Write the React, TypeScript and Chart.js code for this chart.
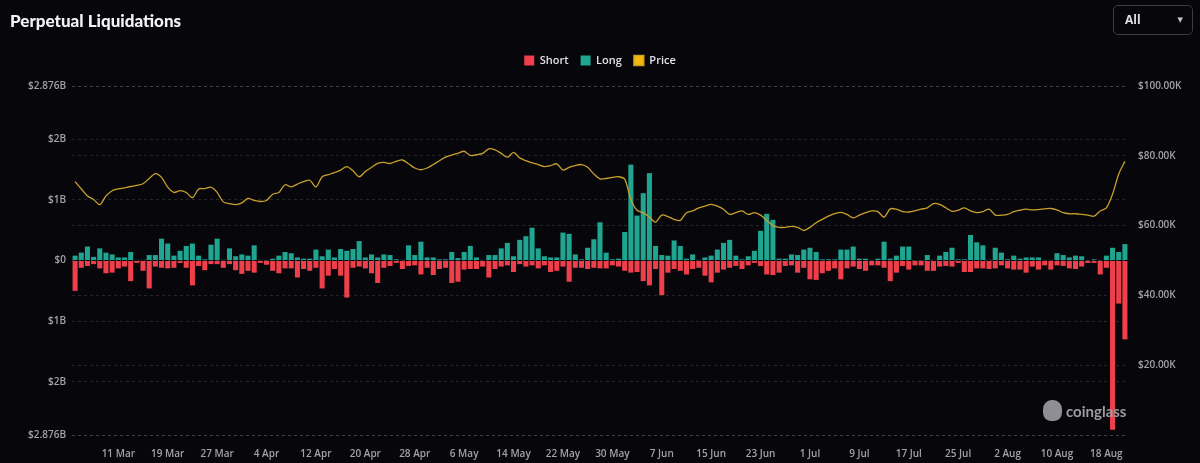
import React, { useEffect, useRef } from "react";
import { Chart, registerables } from "chart.js";

Chart.register(...registerables);

// ---- categories ----
const MONTH_NAMES = ["Jan", "Feb", "Mar", "Apr", "May", "Jun", "Jul", "Aug", "Sep", "Oct", "Nov", "Dec"];
const MONTH_LENGTHS = [31, 29, 31, 30, 31, 30, 31, 31, 30, 31, 30, 31];
const START_MONTH = 2; // March
const START_DAY = 4;

const TICK_LABELS = [
  "11 Mar", "19 Mar", "27 Mar", "4 Apr", "12 Apr", "20 Apr", "28 Apr", "6 May", "14 May",
  "22 May", "30 May", "7 Jun", "15 Jun", "23 Jun", "1 Jul", "9 Jul", "17 Jul", "25 Jul",
  "2 Aug", "10 Aug", "18 Aug",
];

// ---- series (Long / Short in $B, Price in $K) ----
const LONG = [
  0.08, 0.13, 0.23, 0.06, 0.20, 0.13, 0.10, 0.05, 0.05, 0.14,
  0.01, 0.01, 0.09, 0.09, 0.36, 0.28, 0.08, 0.16, 0.24, 0.28,
  0.08, 0.02, 0.26, 0.36, 0.01, 0.20, 0.07, 0.10, 0.08, 0.25,
  0.01, 0.005, 0.03, 0.08, 0.14, 0.12, 0.05, 0.03, 0.03, 0.18,
  0.07, 0.18, 0.05, 0.19, 0.16, 0.19, 0.32, 0.05, 0.10, 0.05,
  0.10, 0.09, 0.02, 0.01, 0.25, 0.09, 0.31, 0.05, 0.05, 0.02,
  0.02, 0.14, 0.04, 0.14, 0.24, 0.05, 0.01, 0.09, 0.09, 0.20,
  0.29, 0.07, 0.34, 0.40, 0.54, 0.20, 0.07, 0.05, 0.05, 0.46,
  0.44, 0.10, 0.02, 0.21, 0.35, 0.63, 0.13, 0.02, 0.03, 0.47,
  1.58, 0.74, 1.11, 1.44, 0.24, 0.09, 0.08, 0.33, 0.24, 0.03,
  0.10, 0.01, 0.05, 0.08, 0.18, 0.29, 0.34, 0.08, 0.02, 0.07,
  0.16, 0.49, 0.77, 0.67, 0.03, 0.03, 0.10, 0.09, 0.18, 0.21,
  0.14, 0.02, 0.02, 0.02, 0.18, 0.18, 0.23, 0.03, 0.03, 0.01,
  0.03, 0.31, 0.03, 0.08, 0.23, 0.23, 0.005, 0.005, 0.09, 0.01,
  0.08, 0.14, 0.21, 0.02, 0.02, 0.42, 0.30, 0.25, 0.01, 0.21,
  0.13, 0.02, 0.08, 0.03, 0.05, 0.05, 0.05, 0.01, 0.01, 0.12,
  0.09, 0.05, 0.08, 0.07, 0.005, 0.02, 0.005, 0.08, 0.21, 0.14,
  0.27,
];

const SHORT = [
  0.50, 0.12, 0.09, 0.06, 0.13, 0.21, 0.20, 0.13, 0.10, 0.34,
  0.04, 0.17, 0.46, 0.10, 0.12, 0.13, 0.12, 0.04, 0.12, 0.41,
  0.09, 0.16, 0.06, 0.06, 0.12, 0.06, 0.16, 0.22, 0.17, 0.20,
  0.04, 0.07, 0.17, 0.21, 0.13, 0.13, 0.28, 0.14, 0.17, 0.12,
  0.46, 0.25, 0.14, 0.25, 0.61, 0.12, 0.10, 0.13, 0.21, 0.37,
  0.12, 0.09, 0.04, 0.14, 0.09, 0.08, 0.23, 0.12, 0.24, 0.14,
  0.12, 0.37, 0.35, 0.15, 0.14, 0.14, 0.10, 0.28, 0.14, 0.10,
  0.08, 0.19, 0.06, 0.10, 0.08, 0.13, 0.08, 0.19, 0.17, 0.10,
  0.35, 0.12, 0.12, 0.14, 0.12, 0.13, 0.13, 0.08, 0.10, 0.17,
  0.20, 0.19, 0.34, 0.41, 0.14, 0.57, 0.20, 0.14, 0.17, 0.23,
  0.14, 0.12, 0.25, 0.36, 0.20, 0.15, 0.12, 0.09, 0.14, 0.08,
  0.04, 0.09, 0.23, 0.24, 0.20, 0.09, 0.08, 0.20, 0.12, 0.31,
  0.32, 0.21, 0.17, 0.13, 0.31, 0.13, 0.10, 0.14, 0.17, 0.08,
  0.08, 0.12, 0.34, 0.20, 0.09, 0.15, 0.08, 0.08, 0.17, 0.17,
  0.10, 0.09, 0.10, 0.04, 0.19, 0.19, 0.13, 0.13, 0.14, 0.13,
  0.08, 0.13, 0.15, 0.15, 0.20, 0.10, 0.15, 0.08, 0.15, 0.08,
  0.09, 0.13, 0.14, 0.10, 0.04, 0.04, 0.23, 0.12, 2.79, 0.71,
  1.30,
];

const PRICE = [
  72.6, 70.5, 68.5, 67.5, 66.0, 68.5, 70.0, 70.5, 70.8, 71.2,
  71.5, 72.0, 73.5, 74.9, 73.8, 71.0, 69.5, 70.0, 69.5, 68.0,
  70.5, 70.6, 71.0, 69.5, 66.8, 66.3, 66.0, 66.5, 67.8, 67.2,
  66.9, 67.2, 69.0, 69.5, 71.7, 71.1, 71.9, 72.6, 73.0, 71.1,
  74.0, 74.6, 75.2, 75.9, 76.9, 75.7, 74.0, 75.5, 76.7, 77.8,
  78.1, 77.8, 78.4, 78.8, 77.7, 76.5, 76.0, 76.5, 77.5, 78.6,
  79.6, 80.2, 80.7, 81.3, 80.1, 80.3, 80.7, 82.0, 81.7, 80.7,
  79.6, 81.0, 79.4, 78.6, 78.0, 77.5, 76.9, 77.2, 77.7, 75.9,
  76.7, 77.2, 77.5, 76.7, 74.8, 73.4, 73.5, 73.8, 74.0, 73.3,
  67.5, 64.4, 63.7, 62.4, 61.0, 63.0, 62.6, 61.8, 61.5, 63.7,
  64.2, 65.1, 65.6, 66.1, 65.6, 64.7, 63.2, 63.7, 64.2, 63.2,
  63.7, 63.0, 61.5, 60.0, 59.5, 59.5, 59.8, 59.5, 58.6, 59.5,
  60.8, 61.8, 62.7, 63.4, 63.8, 63.2, 62.2, 63.0, 63.7, 64.2,
  64.0, 62.4, 64.8, 64.7, 64.0, 63.9, 64.2, 64.7, 65.1, 66.3,
  66.1, 65.1, 64.1, 64.4, 65.1, 64.2, 63.7, 64.0, 64.7, 63.0,
  63.0, 63.2, 64.0, 64.4, 64.7, 64.5, 64.6, 64.8, 64.9, 64.5,
  63.7, 63.4, 63.4, 63.2, 63.0, 62.7, 64.2, 65.1, 69.0, 74.8,
  78.4,
];

const LEFT_TICKS = [-2.876, -2, -1, 0, 1, 2, 2.876];
const RIGHT_MIN = 0;
const RIGHT_MAX = 100;
const RIGHT_STEP = 20;

// daily labels "4 Mar" ... built from the start date
function buildLabels(count: number): string[] {
  const out: string[] = [];
  let m = START_MONTH;
  let d = START_DAY;
  for (let i = 0; i < count; i++) {
    out.push(`${d} ${MONTH_NAMES[m]}`);
    d++;
    if (d > MONTH_LENGTHS[m]) {
      d = 1;
      m = (m + 1) % 12;
    }
  }
  return out;
}
const LABELS = buildLabels(LONG.length);

const BG = "#06060b";
const RED = "#ef3f4b";
const TEAL = "#1fa590";
const PRICE_LINE = "#c9a02c";
const PRICE_BOX = "#f0b90b";
const TICK_COLOR = "#a2a2a8";
const GRID_COLOR = "rgba(255,255,255,0.13)";
const FONT = "'Open Sans', 'DejaVu Sans', sans-serif";

// adds empty space below the legend row
const legendGap = {
  id: "legendGap",
  beforeInit(chart: any) {
    const legend = chart.legend;
    if (!legend || legend._gapPatched) return;
    const origFit = legend.fit;
    legend.fit = function () {
      origFit.call(this);
      this.height += 10;
    };
    legend._gapPatched = true;
  },
};

export default function App() {
  const canvasRef = useRef<HTMLCanvasElement | null>(null);

  useEffect(() => {
    document.body.style.margin = "0";
    document.body.style.background = BG;
    const canvas = canvasRef.current;
    if (!canvas) return;
    const tickFont = { family: FONT, size: 10, weight: "600" as const };

    const chart = new Chart(canvas, {
      type: "bar",
      plugins: [legendGap],
      data: {
        labels: LABELS,
        datasets: [
          {
            type: "bar",
            label: "Short",
            data: SHORT.map((v) => -v),
            backgroundColor: RED,
            borderWidth: 0,
            yAxisID: "y",
            stack: "liq",
            order: 2,
            barPercentage: 0.82,
            categoryPercentage: 1.0,
          },
          {
            type: "bar",
            label: "Long",
            data: LONG,
            backgroundColor: TEAL,
            borderWidth: 0,
            yAxisID: "y",
            stack: "liq",
            order: 2,
            barPercentage: 0.82,
            categoryPercentage: 1.0,
          },
          {
            type: "line",
            label: "Price",
            data: PRICE,
            borderColor: PRICE_LINE,
            backgroundColor: PRICE_BOX,
            borderWidth: 1.3,
            pointRadius: 0,
            tension: 0.3,
            yAxisID: "y1",
            order: 1,
          } as any,
        ],
      },
      options: {
        animation: false,
        responsive: true,
        maintainAspectRatio: false,
        layout: { padding: { top: 30, left: 0, right: 0, bottom: 0 } },
        plugins: {
          tooltip: { enabled: false },
          legend: {
            display: true,
            position: "top",
            labels: {
              boxWidth: 10,
              boxHeight: 10,
              padding: 12,
              color: "#e2e2e6",
              font: { family: FONT, size: 11, weight: "600" },
              sort: (a: any, b: any) => a.datasetIndex - b.datasetIndex,
            },
          },
        },
        scales: {
          x: {
            stacked: true,
            offset: true,
            grid: { display: false },
            border: { display: false },
            ticks: {
              autoSkip: false,
              maxRotation: 0,
              minRotation: 0,
              padding: 5,
              color: TICK_COLOR,
              font: tickFont,
              callback: (_v: any, i: number) => (TICK_LABELS.includes(LABELS[i]) ? LABELS[i] : ""),
            },
            afterFit: (s: any) => {
              s.height = 28;
            },
          },
          y: {
            position: "left",
            stacked: true,
            min: LEFT_TICKS[0],
            max: LEFT_TICKS[LEFT_TICKS.length - 1],
            afterBuildTicks: (s: any) => {
              s.ticks = LEFT_TICKS.map((v) => ({ value: v }));
            },
            afterFit: (s: any) => {
              s.width = 72;
              s.paddingTop = 86;
            },
            grid: { color: GRID_COLOR, drawTicks: false },
            border: { display: false, dash: [3, 3] },
            ticks: {
              padding: 6,
              color: TICK_COLOR,
              font: tickFont,
              callback: (v: any) => (Number(v) === 0 ? "$0" : `$${Math.abs(Number(v))}B`),
            },
          },
          y1: {
            position: "right",
            min: RIGHT_MIN,
            max: RIGHT_MAX,
            afterFit: (s: any) => {
              s.width = 72;
            },
            grid: { color: GRID_COLOR, drawTicks: false },
            border: { display: false, dash: [3, 3] },
            ticks: {
              stepSize: RIGHT_STEP,
              padding: 10,
              color: TICK_COLOR,
              font: tickFont,
              callback: (v: any) => (Number(v) === 0 ? "" : `$${Number(v).toFixed(2)}K`),
            },
          },
        },
      },
    });
    return () => chart.destroy();
  }, []);

  return (
    <div
      style={{
        position: "relative",
        width: 1200,
        height: 463,
        background: BG,
        overflow: "hidden",
        fontFamily: FONT,
      }}
    >
      <canvas ref={canvasRef} style={{ position: "absolute", left: 0, top: 0 }} />
      <div
        style={{
          position: "absolute",
          left: 10,
          top: 12,
          lineHeight: "17px",
          fontFamily: "Lato, 'Open Sans', sans-serif",
          fontWeight: 900,
          fontSize: 17,
          color: "#f4f4f6",
        }}
      >
        Perpetual Liquidations
      </div>
      <div
        style={{
          position: "absolute",
          left: 1113,
          top: 5,
          width: 80,
          height: 30,
          boxSizing: "border-box",
          border: "1px solid #3a3a40",
          borderRadius: 5,
          color: "#e0e0e4",
          fontSize: 12,
          fontWeight: 700,
          lineHeight: "28px",
          paddingLeft: 11,
        }}
      >
        All
        <span style={{ position: "absolute", right: 9, top: 0, fontSize: 7, color: "#c8c8cc" }}>▼</span>
      </div>
      <div
        style={{
          position: "absolute",
          left: 1043,
          top: 400,
          display: "flex",
          alignItems: "center",
          gap: 4,
          color: "#9c9ca2",
        }}
      >
        <div
          style={{
            width: 19,
            height: 21,
            background: "#8e8e94",
            borderRadius: "45% 45% 40% 40%",
          }}
        />
        <span style={{ fontFamily: "Lato, sans-serif", fontWeight: 700, fontSize: 15 }}>coinglass</span>
      </div>
    </div>
  );
}
